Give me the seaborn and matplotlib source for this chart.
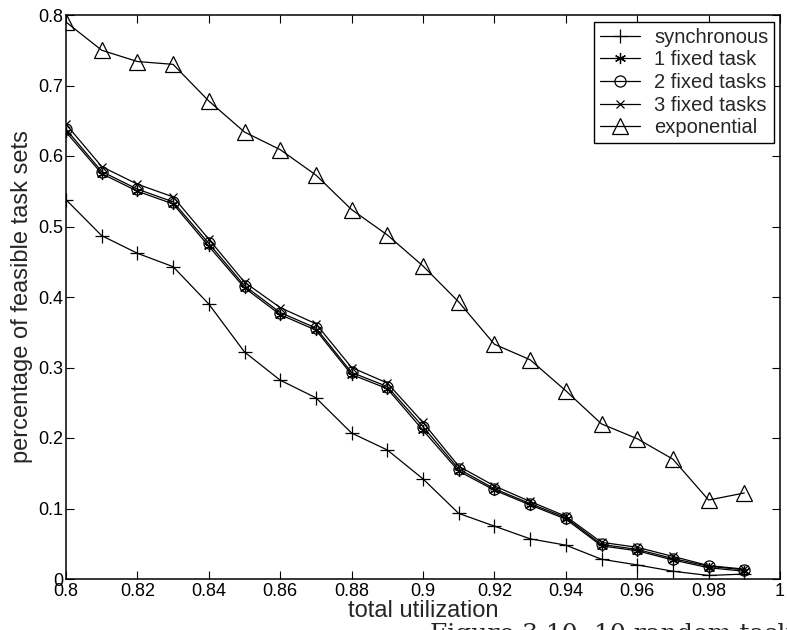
import numpy as np
import pandas as pd
import matplotlib
matplotlib.use("Agg")
import matplotlib.pyplot as plt
import seaborn as sns

utilization = [0.80, 0.81, 0.82, 0.83, 0.84, 0.85, 0.86, 0.87, 0.88, 0.89,
               0.90, 0.91, 0.92, 0.93, 0.94, 0.95, 0.96, 0.97, 0.98, 0.99]

synchronous = [0.538, 0.487, 0.462, 0.443, 0.390, 0.322, 0.282, 0.257, 0.207, 0.183,
               0.142, 0.093, 0.075, 0.057, 0.048, 0.028, 0.020, 0.011, 0.005, 0.007]
fixed_1 = [0.634, 0.575, 0.550, 0.532, 0.472, 0.413, 0.375, 0.353, 0.290, 0.270,
           0.211, 0.153, 0.126, 0.105, 0.085, 0.047, 0.040, 0.027, 0.016, 0.011]
fixed_2 = [0.638, 0.578, 0.553, 0.535, 0.476, 0.416, 0.378, 0.356, 0.293, 0.273,
           0.216, 0.156, 0.128, 0.107, 0.087, 0.049, 0.042, 0.029, 0.018, 0.013]
fixed_3 = [0.645, 0.585, 0.560, 0.542, 0.482, 0.421, 0.385, 0.362, 0.300, 0.278,
           0.222, 0.160, 0.132, 0.110, 0.089, 0.052, 0.045, 0.032, 0.019, 0.014]
exponential = [0.790, 0.750, 0.734, 0.730, 0.678, 0.634, 0.609, 0.573, 0.524, 0.488,
               0.444, 0.393, 0.333, 0.311, 0.267, 0.220, 0.199, 0.170, 0.112, 0.122]

series_names = ["synchronous", "1 fixed task", "2 fixed tasks", "3 fixed tasks", "exponential"]
series_values = [synchronous, fixed_1, fixed_2, fixed_3, exponential]

x_ticks = [0.8, 0.82, 0.84, 0.86, 0.88, 0.9, 0.92, 0.94, 0.96, 0.98, 1.0]
x_tick_labels = ["0.8", "0.82", "0.84", "0.86", "0.88", "0.9", "0.92", "0.94", "0.96", "0.98", "1"]
y_ticks = [0, 0.1, 0.2, 0.3, 0.4, 0.5, 0.6, 0.7, 0.8]
y_tick_labels = ["0", "0.1", "0.2", "0.3", "0.4", "0.5", "0.6", "0.7", "0.8"]

sns.set_style("ticks")
plt.rcParams["font.family"] = ["Liberation Sans", "DejaVu Sans"]

marker_styles = {
    "synchronous": dict(marker="+", ms=10),
    "1 fixed task": dict(marker=(6, 2, 0), ms=8),
    "2 fixed tasks": dict(marker="o", ms=8, mfc="none"),
    "3 fixed tasks": dict(marker="x", ms=6),
    "exponential": dict(marker="^", ms=11, mfc="none"),
}

frame = pd.DataFrame({
    "utilization": np.tile(utilization, len(series_names)),
    "value": np.concatenate(series_values),
    "series": np.repeat(series_names, len(utilization)),
})

fig = plt.figure(figsize=(7.87, 6.30), dpi=100)
ax = fig.add_axes([66 / 787, 1 - 579 / 630, (780 - 66) / 787, (579 - 15) / 630])

for name in series_names:
    sub = frame[frame["series"] == name]
    sns.lineplot(data=sub, x="utilization", y="value", ax=ax, color="black",
                 linewidth=0.9, mec="black", mew=0.9, label=name,
                 **marker_styles[name])

ax.set_xlim(0.8, 1.0)
ax.set_ylim(0, 0.8)
ax.set_xticks(x_ticks)
ax.set_xticklabels(x_tick_labels)
ax.set_yticks(y_ticks)
ax.set_yticklabels(y_tick_labels)
ax.tick_params(direction="in", length=6, width=0.8, labelsize=13,
               top=True, right=True, pad=2, colors="black")
ax.tick_params(axis="x", pad=3)
for sp in ax.spines.values():
    sp.set_visible(True)
    sp.set_color("black")
    sp.set_linewidth(1.1)

ax.set_xlabel("total utilization", fontsize=17, labelpad=0)
ax.set_ylabel("percentage of feasible task sets", fontsize=17, labelpad=4)

leg = ax.legend(loc="upper right", fontsize=14.5, frameon=True, fancybox=False,
                edgecolor="black", framealpha=1, handlelength=2.0,
                borderpad=0.3, labelspacing=0.18, handletextpad=0.7,
                borderaxespad=0, bbox_to_anchor=(0.992, 0.988))
leg.get_frame().set_linewidth(1.0)

fig.text(430 / 787, 1 - 641 / 630, "Figure 3.10: 10 random tasks, 10 deadlines [0.3, 0.9]",
         family="DejaVu Serif", fontsize=18, ha="left", va="baseline")

fig.savefig("out.png", dpi=100)
